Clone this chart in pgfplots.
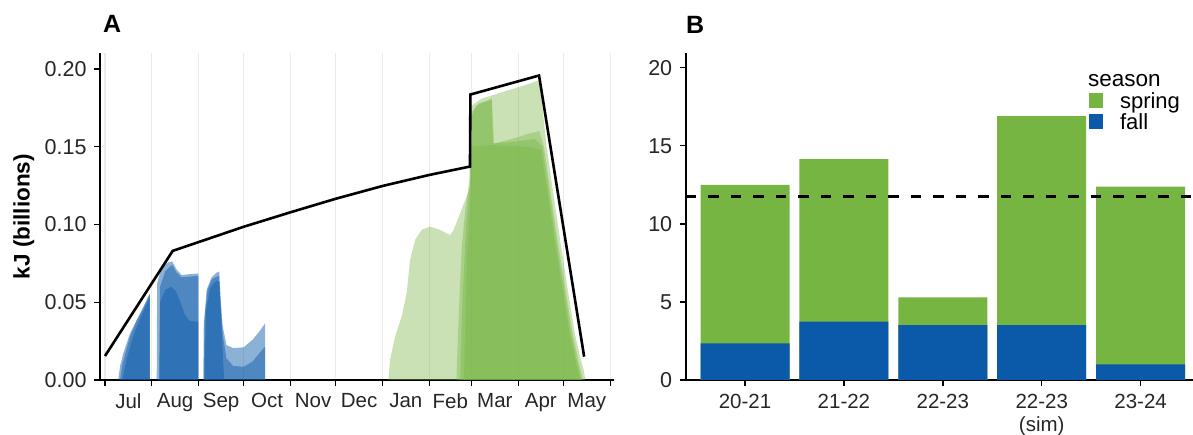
\documentclass[border=0pt]{standalone}
\usepackage{fontspec}
\setmainfont{Liberation Sans}
\usepackage{pgfplots}
\pgfplotsset{compat=1.18}

\definecolor{fblue}{RGB}{11,90,169}
\definecolor{sgreen}{RGB}{119,181,67}
\definecolor{gridc}{RGB}{235,235,235}

\pgfplotsset{
  panel/.style={
    scale only axis,
    anchor=south west,
    axis x line*=bottom, axis y line*=left,
    axis line style={-, line width=1.6pt, black},
    tick align=outside, major tick length=6pt,
    tick style={line width=1.4pt, black},
    xticklabel style={font=\fontsize{20.5}{24}\selectfont, text=black!85},
    yticklabel style={font=\fontsize{21.5}{24}\selectfont, text=black!85, xshift=-4pt},
    /pgf/number format/assume math mode=true,
    ymin=0,
  },
  blue layer/.style={draw=none, fill=fblue, fill opacity=0.47},
  green layer/.style={draw=none, fill=sgreen, fill opacity=0.4},
}

\begin{document}
\begin{tikzpicture}
\useasboundingbox (0,0) rectangle (1193pt,435pt);

% ---------------- panel A ----------------
\begin{axis}[panel,
  at={(100pt,55pt)}, width=514pt, height=326.7pt,
  xmin=-3.3, xmax=337.5, ymax=0.21,
  xtick={0,31,62,92,123,153,184,215,243,274,304,335},
  xticklabels={},
  extra x ticks={15.5,46.5,77,107.5,138,168.5,199.5,229,258.5,289,319.5},
  extra x tick labels={Jul,Aug,Sep,Oct,Nov,Dec,Jan,Feb,Mar,Apr,May},
  extra x tick style={major tick length=0pt, grid=none,
    xticklabel style={yshift=-10pt}},
  xmajorgrids, grid style={gridc, line width=1.3pt},
  ytick={0,0.05,0.1,0.15,0.2},
  scaled y ticks=false,
  yticklabel style={/pgf/number format/fixed, /pgf/number format/fixed zerofill,
    /pgf/number format/precision=2},
  ylabel={kJ (billions)},
  ylabel style={font=\fontsize{22.5}{24}\selectfont\bfseries,
    at={(axis description cs:-0.148,0.5)}, anchor=center},
]
% fall (blue) layers
\addplot[blue layer] coordinates {(8.8,0) (10,0.009) (12.1,0.0171) (16.6,0.030) (21,0.0386) (25.4,0.047) (28.7,0.0536) (29.8,0.0557) (29.8,0)} \closedcycle;
\addplot[blue layer] coordinates {(10,0) (11.5,0.010) (16.6,0.028) (21,0.038) (25.4,0.046) (28.7,0.053) (29.8,0.055) (29.8,0)} \closedcycle;
\addplot[blue layer] coordinates {(11.5,0) (14,0.012) (18,0.026) (21,0.034) (25.4,0.044) (28.7,0.051) (29.6,0.053) (29.6,0)} \closedcycle;
\addplot[blue layer] coordinates {(34.3,0) (34.6,0.062) (37.6,0.0729) (42,0.0755) (44.6,0.0762) (47.5,0.071) (50.8,0.0675) (56,0.068) (61.9,0.0685) (61.9,0)} \closedcycle;
\addplot[blue layer] coordinates {(36,0) (36.5,0.06) (40,0.070) (44.6,0.074) (47.5,0.069) (50.8,0.066) (61.9,0.067) (61.9,0)} \closedcycle;
\addplot[blue layer] coordinates {(36,0) (36.5,0.05) (40,0.058) (44,0.060) (47,0.057) (50,0.05) (53,0.042) (56,0.038) (61.9,0.0375) (61.9,0)} \closedcycle;
\addplot[blue layer] coordinates {(65.2,0) (65.5,0.035) (67.4,0.058) (70.7,0.066) (74,0.069) (75.8,0.0697) (76.5,0.055) (78,0.035) (80.5,0.0225) (85,0.0205) (92,0.021) (98,0.026) (103,0.032) (106.1,0.0364) (106.1,0)} \closedcycle;
\addplot[blue layer] coordinates {(65.5,0) (66,0.04) (68,0.058) (71,0.065) (75.5,0.067) (76.5,0.05) (78,0.03) (80.5,0.014) (85,0.009) (92,0.0085) (98,0.012) (103,0.018) (106.1,0.0214) (106.1,0)} \closedcycle;
\addplot[blue layer] coordinates {(66,0) (67,0.045) (70,0.06) (74,0.064) (76,0.063) (77.5,0.03) (79,0)} \closedcycle;
% spring (green) layers
\addplot[green layer] coordinates {(187.9,0) (189,0.0129) (192.3,0.0278) (196.7,0.0407) (200,0.0557) (202.3,0.0772) (205.6,0.090) (210,0.0965) (215.5,0.0986) (222.1,0.0965) (228.8,0.0932) (231,0.096) (235.4,0.107) (239.8,0.118) (242,0.124) (242.6,0.176) (250,0.181) (257,0.183) (270,0.187) (280,0.190) (287.5,0.1925) (289.5,0.18) (292.8,0.15) (297.2,0.12) (301.8,0.09) (306.5,0.06) (311.5,0.03) (315,0.015) (317.5,0.006) (318.5,0)} \closedcycle;
\addplot[green layer] coordinates {(233,0) (234.5,0.04) (236.5,0.085) (239,0.11) (241.5,0.128) (242.6,0.168) (246,0.176) (252,0.179) (256.5,0.181) (257.3,0.165) (258,0.152) (270,0.155) (280,0.158) (288,0.160) (291,0.15) (295.5,0.12) (300,0.09) (305,0.06) (310,0.03) (314,0.012) (317,0)} \closedcycle;
\addplot[green layer] coordinates {(235.5,0) (237,0.05) (239.5,0.10) (242.2,0.13) (242.8,0.172) (248,0.178) (256.5,0.180) (257.2,0.152) (270,0.153) (285,0.155) (290,0.15) (294.5,0.12) (299,0.09) (304,0.06) (309,0.03) (313,0.012) (316,0)} \closedcycle;
\addplot[green layer] coordinates {(238,0) (240,0.08) (242.5,0.12) (243,0.15) (256,0.151) (280,0.15) (289,0.148) (293.5,0.12) (298,0.09) (303,0.06) (308,0.03) (312,0.012) (315,0)} \closedcycle;
% capacity line
\addplot[black, line width=2.6pt, line join=miter] coordinates {(0,0.0154) (44.9,0.083) (92,0.0985) (123,0.1078) (153,0.1165) (184,0.1247) (215,0.1318) (242,0.1372) (242.3,0.1835) (287.8,0.1957) (317.7,0.015)};
\end{axis}

% ---------------- panel B ----------------
\begin{axis}[panel,
  at={(685.7pt,55pt)}, width=507.3pt, height=326.7pt,
  xmin=0.4, xmax=5.53, ymax=20.92,
  xtick={1,2,3,4,5},
  xticklabels={20-21,21-22,22-23,{22-23\\(sim)},23-24},
  xticklabel style={align=center, yshift=-5pt, font=\fontsize{20.5}{22.5}\selectfont},
  ytick={0,5,10,15,20},
  legend style={at={(0.795,0.8797)}, anchor=north west, draw=none, fill=none,
    inner sep=0pt, outer sep=0pt, row sep=5.2pt, column sep=17pt,
    font=\fontsize{22}{22}\selectfont,
    nodes={inner sep=0pt, text height=15.8pt, text depth=0pt}},
  legend cell align=left,
]
% season totals (spring + fall), then fall on top
\addplot[ybar, bar width=0.9, bar shift=0pt, draw=none, fill=sgreen,
  legend image code/.code={\fill[sgreen] (0pt,-7.8pt) rectangle (14pt,7.8pt);}]
  coordinates {(1,12.49) (2,14.15) (3,5.29) (4,16.90) (5,12.38)};
\addlegendentry{spring}
\addplot[ybar, bar width=0.9, bar shift=0pt, draw=none, fill=fblue,
  legend image code/.code={\fill[fblue] (0pt,-7.8pt) rectangle (14pt,7.8pt);}]
  coordinates {(1,2.35) (2,3.74) (3,3.52) (4,3.52) (5,1.0)};
\addlegendentry{fall}
\addplot[black, line width=2.6pt, dash pattern=on 10.5pt off 12pt, forget plot]
  coordinates {(0.4,11.74) (5.53,11.74)};
\end{axis}

\node[anchor=base west, inner sep=0pt, font=\fontsize{22.5}{24}\selectfont] at (1088pt,348.3pt) {season};
\node[anchor=north west, inner sep=0pt, font=\fontsize{25}{25}\selectfont\bfseries] at (103pt,420pt) {A};
\node[anchor=north west, inner sep=0pt, font=\fontsize{25}{25}\selectfont\bfseries] at (686pt,419pt) {B};
\end{tikzpicture}
\end{document}
